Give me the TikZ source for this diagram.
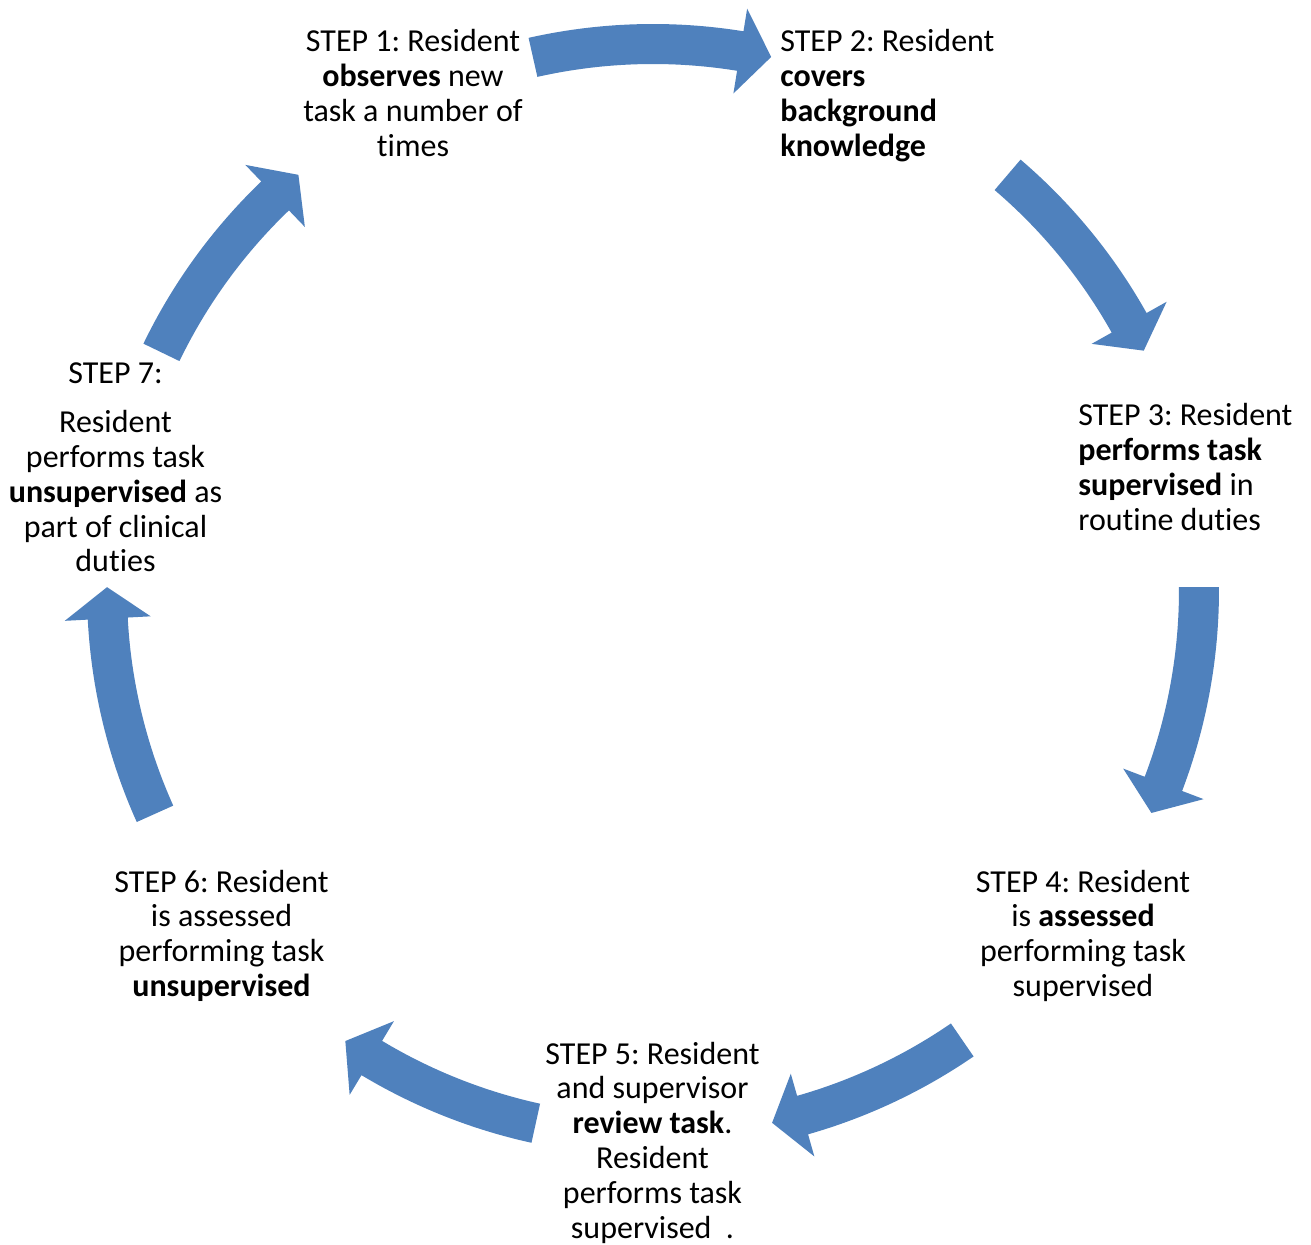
\documentclass[tikz,border=0pt]{standalone}
\usepackage{fontspec}
\setmainfont[Ligatures={NoCommon}]{Carlito}
\frenchspacing
\definecolor{arrowblue}{HTML}{4F81BD}
\newcommand\cycarrow[2]{%
  \pgfmathsetmacro\hb{#2+3.3}%
  \fill[arrowblue, shift={(653,654)}]
    (#1:566) arc[start angle=#1, end angle=\hb, radius=566]
    -- (\hb:589) -- (#2:546) -- (\hb:503) -- (\hb:526)
    arc[start angle=\hb, end angle=#1, radius=526] -- cycle;}
\begin{document}
\begin{tikzpicture}[x=0.5pt,y=0.5pt,
  steptext/.style={inner sep=0pt, font=\fontsize{16}{17.4}\selectfont, text=black}]
\fill[white] (0,0) rectangle (1311,1244);
\useasboundingbox (0,0) rectangle (1311,1244);
% block arrows (tail angle, tip angle)
\cycarrow{102.7}{77.5}
\cycarrow{49.5}{26.0}
\cycarrow{0.3}{-24.1}
\cycarrow{-55.5}{-77.4}
\cycarrow{-102.4}{-124.3}
\cycarrow{204.2}{179.7}
\cycarrow{154.2}{130.5}
% texts (anchored at the baseline of their last line)
\node[steptext, anchor=base, align=center] (s1) at (413,1087.6)
  {STEP 1: Resident\\\textbf{observes} new\\task a number of\\times};
\node[steptext, anchor=base west, align=left] (s2) at (780,1087.6)
  {STEP 2: Resident\\\textbf{covers}\\\textbf{background}\\\textbf{knowledge}};
\node[steptext, anchor=base west, align=left] (s3) at (1078,713.6)
  {STEP 3: Resident\\\textbf{performs task}\\\textbf{supervised} in\\routine duties};
\node[steptext, anchor=base, align=center] (s4) at (1083,247.6)
  {STEP 4: Resident\\is \textbf{assessed}\\performing task\\supervised};
\node[steptext, anchor=base, align=center] (s5) at (652.5,6)
  {STEP 5: Resident\\and supervisor\\\textbf{review task}.\\Resident\\performs task\\supervised~~.};
\node[steptext, anchor=base, align=center] (s6) at (221.5,247.6)
  {STEP 6: Resident\\is assessed\\performing task\\\textbf{unsupervised}};
\node[steptext, anchor=base, align=center] (s7) at (115.5,672)
  {STEP 7:\\[7pt]Resident\\performs task\\\textbf{unsupervised} as\\part of clinical\\duties};
\end{tikzpicture}
\end{document}
